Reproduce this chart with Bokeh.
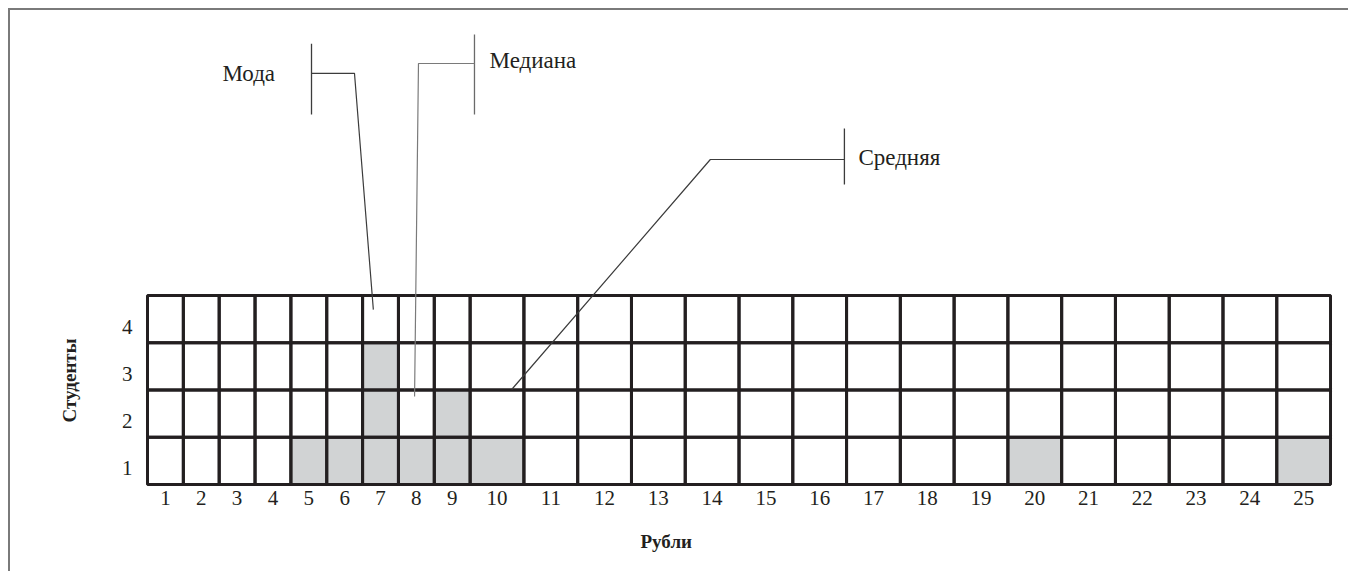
import numpy as np
from bokeh.plotting import figure
from bokeh.models import Range1d, FixedTicker, Title
from bokeh.core.properties import value
from bokeh.embed import file_html
from bokeh.resources import INLINE

# ---------------- data ----------------
rubles = list(range(1, 26))
students = [0, 0, 0, 0, 1, 1, 3, 1, 2, 1, 0, 0, 0, 0, 0, 0, 0, 0, 0, 1, 0, 0, 0, 0, 1]
row_labels = ["1", "2", "3", "4"]
annot_labels = ["Мода", "Медиана", "Средняя"]
x_title = "Рубли"
y_title = "Студенты"

# ---------------- style / layout ----------------
DARK = "#231f20"
GRAY = "#d1d3d4"
FONT = "Liberation Serif"
col_widths = [1.0] * 9 + [1.5] * 16      # first nine columns are narrower
n_rows = len(row_labels)

edges = np.concatenate([[0.0], np.cumsum(col_widths)])
centers = (edges[:-1] + edges[1:]) / 2

# statistics
vals = np.repeat(rubles, students)
mode = rubles[int(np.argmax(students))]
median = float(np.median(vals))
mean = float(vals.mean())


def xpos(v):
    i = int(np.floor(v + 0.5)) - 1
    return float(edges[i] + (v - (i + 0.5)) * col_widths[i])


W, H = 1340, 563
p = figure(width=W, height=H, output_backend="svg", toolbar_location=None,
           x_range=Range1d(-0.195, 33.278), y_range=Range1d(-0.085, 9.714),
           min_border_left=130, min_border_right=10, min_border_top=15,
           min_border_bottom=85)
p.outline_line_color = None
p.grid.visible = False
p.background_fill_color = "white"
p.border_fill_color = "white"
p.styles = {"margin-left": "8px", "margin-top": "8px",
            "border-left": "2px solid #7a7a7a", "border-top": "2px solid #7a7a7a"}

# cells
L, R, B, T, C = [], [], [], [], []
for c in range(len(rubles)):
    for r in range(n_rows):
        L.append(float(edges[c])); R.append(float(edges[c + 1]))
        B.append(r); T.append(r + 1)
        C.append(GRAY if r < students[c] else "white")
p.quad(left=L, right=R, bottom=B, top=T, fill_color=C, line_color=None)
p.quad(left=L, right=R, bottom=B, top=T, fill_color=None,
       line_color=DARK, line_width=3)

# annotation pointers
mode_x, med_x, mean_x = xpos(mode), xpos(median), xpos(mean)
brackets_x = [[4.575, 4.575], [9.121, 9.121], [19.44, 19.44]]
brackets_y = [[7.83, 9.33], [7.83, 9.524], [6.349, 7.534]]
p.multi_line(xs=brackets_x, ys=brackets_y,
             line_color=["#3c3c3c", "#6a6a6a", "#3c3c3c"], line_width=1.3)
ptr_x = [[4.575, 5.774, mode_x - 0.2], [9.121, 7.559, med_x - 0.05],
         [19.44, 15.70, mean_x]]
ptr_y = [[8.70, 8.70, 3.70], [8.91, 8.91, 1.862], [6.878, 6.878, 2.01]]
p.multi_line(xs=ptr_x, ys=ptr_y,
             line_color=["#3c3c3c", "#7a7a7a", "#3c3c3c"], line_width=1.2)
p.text(x=[2.09, 9.54, 19.83], y=[8.70, 8.97, 6.92], text=annot_labels,
       text_font=value(FONT), text_font_size="23px", text_color=DARK,
       text_baseline="middle", text_align="left")

# axes
xa = p.xaxis[0]
xa.ticker = FixedTicker(ticks=[float(c) for c in centers])
xa.major_label_overrides = {float(c): str(r) for c, r in zip(centers, rubles)}
ya = p.yaxis[0]
yt = [k + 0.34 for k in range(n_rows)]
ya.ticker = FixedTicker(ticks=yt)
ya.major_label_overrides = {t: lab for t, lab in zip(yt, row_labels)}
for ax in (xa, ya):
    ax.axis_line_color = None
    ax.major_tick_line_color = None
    ax.minor_tick_line_color = None
    ax.major_tick_out = 0
    ax.major_tick_in = 0
    ax.major_label_text_font = FONT
    ax.major_label_text_font_size = "21px"
    ax.major_label_text_color = DARK
xa.major_label_standoff = 2
ya.major_label_standoff = 8

p.add_layout(Title(text=x_title, align="left", offset=500, text_font=FONT,
                   text_font_size="19px", text_font_style="bold",
                   text_color=DARK, standoff=42), "below")
p.add_layout(Title(text=y_title, align="left", offset=66, text_font=FONT,
                   text_font_size="19px", text_font_style="bold",
                   text_color=DARK, standoff=78), "left")

open("out.html", "w").write(file_html(p, INLINE))
